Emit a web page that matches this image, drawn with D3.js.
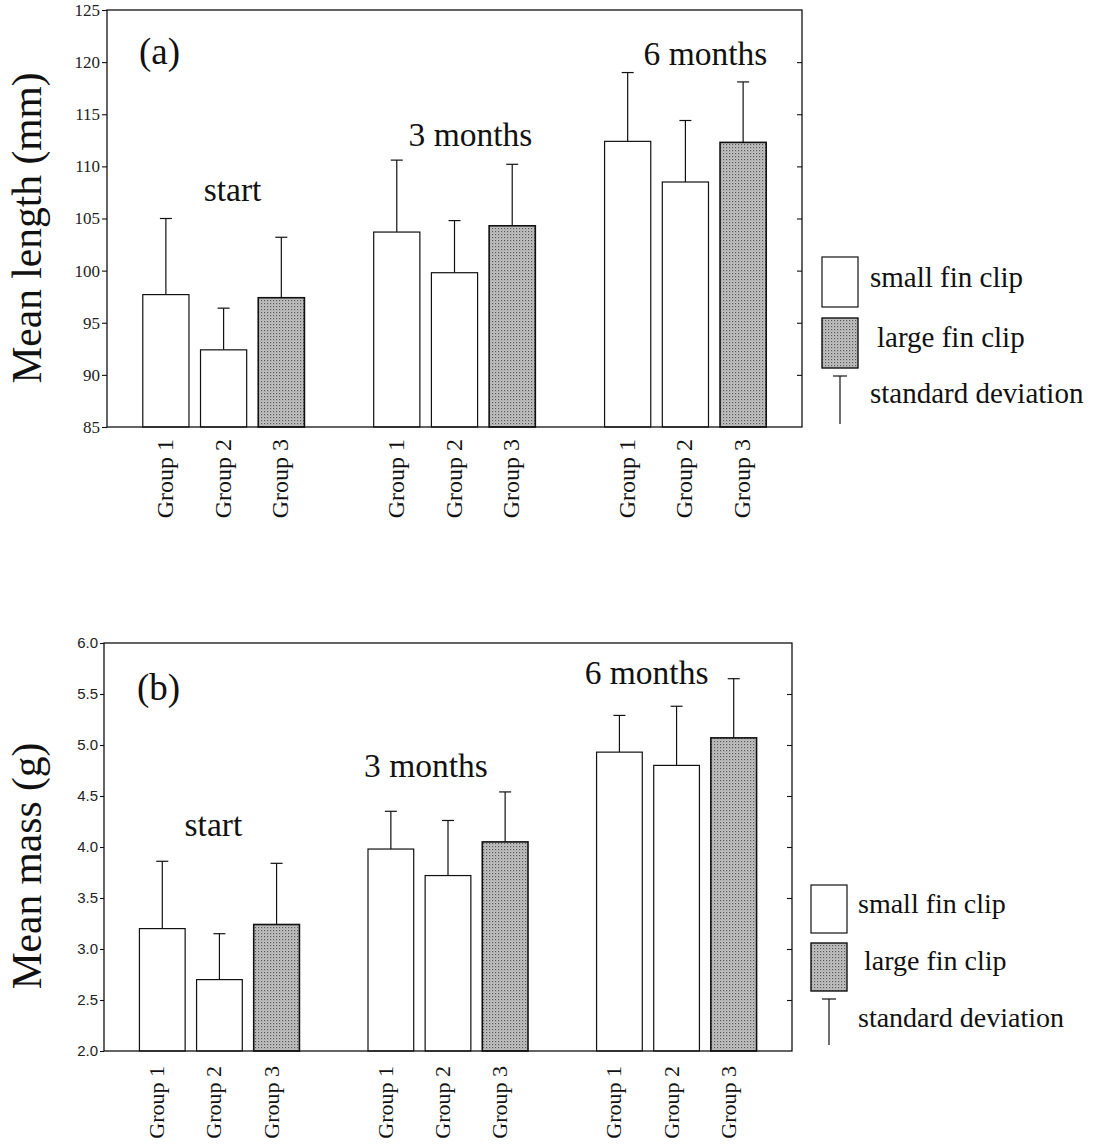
<!DOCTYPE html>
<html>
<head>
<meta charset="utf-8">
<script src="https://cdn.jsdelivr.net/npm/d3@7"></script>
<style>
  html, body { margin: 0; padding: 0; background: #fff; }
  svg { display: block; }
</style>
</head>
<body>
<svg id="chart" width="1103" height="1146"></svg>
<script>
// Sampling times and treatment groups
const periods = ["start", "3 months", "6 months"];
const groups = ["Group 1", "Group 2", "Group 3"];
// Group 3 carried the large fin clip, groups 1 and 2 the small one
const clipType = ["small", "small", "large"];

// Mean length (mm) and its standard deviation, per period then group
const lengthMean = [[97.7, 92.4, 97.4], [103.7, 99.8, 104.3], [112.4, 108.5, 112.3]];
const lengthSD   = [[7.3, 4.0, 5.8], [6.9, 5.0, 5.9], [6.6, 5.9, 5.8]];
const lengthTicks = [85, 90, 95, 100, 105, 110, 115, 120, 125];

// Mean mass (g) and its standard deviation
const massMean = [[3.20, 2.70, 3.24], [3.98, 3.72, 4.05], [4.93, 4.80, 5.07]];
const massSD   = [[0.66, 0.45, 0.60], [0.37, 0.54, 0.49], [0.36, 0.58, 0.58]];
const massTicks = [2.0, 2.5, 3.0, 3.5, 4.0, 4.5, 5.0, 5.5, 6.0];

const legendLabels = ["small fin clip", "large fin clip", "standard deviation"];

const SERIF = "'Liberation Serif', 'Times New Roman', serif";
const SANS = "'Liberation Sans', Arial, sans-serif";

const svg = d3.select("#chart");

// stippled grey fill for the large-fin-clip bars
const defs = svg.append("defs");
const pat = defs.append("pattern")
  .attr("id", "stipple").attr("width", 3).attr("height", 3)
  .attr("patternUnits", "userSpaceOnUse");
pat.append("rect").attr("width", 3).attr("height", 3).attr("fill", "#c4c4c4");
pat.append("rect").attr("width", 1.2).attr("height", 1.2).attr("fill", "#555");
pat.append("rect").attr("x", 1.5).attr("y", 1.5).attr("width", 1).attr("height", 1).attr("fill", "#929292");

function fillFor(t) { return t === "large" ? "url(#stipple)" : "#fff"; }

function drawPanel(cfg) {
  const g = svg.append("g");
  const { left, top, right, bottom } = cfg.frame;

  const y = d3.scaleLinear().domain(cfg.domain).range([bottom, top]);
  const xOuter = d3.scaleBand().domain(periods).range([left, right])
    .paddingInner(0.25).paddingOuter(0.13);
  const xInner = d3.scaleBand().domain(groups).range([0, xOuter.bandwidth()])
    .paddingInner(0.2).paddingOuter(0.1);

  const rows = [];
  periods.forEach((p, i) => groups.forEach((gr, j) => {
    rows.push({ period: p, group: gr, mean: cfg.mean[i][j], sd: cfg.sd[i][j], clip: clipType[j] });
  }));
  const cx = d => xOuter(d.period) + xInner(d.group) + xInner.bandwidth() / 2;

  // error bars (drawn first, the bar covers the lower part)
  const eb = g.append("g").attr("stroke", "#111").attr("stroke-width", 1.2);
  eb.selectAll("line.v").data(rows).join("line").attr("class", "v")
    .attr("x1", cx).attr("x2", cx)
    .attr("y1", d => y(d.mean)).attr("y2", d => y(d.mean + d.sd));
  eb.selectAll("line.h").data(rows).join("line").attr("class", "h")
    .attr("x1", d => cx(d) - 6).attr("x2", d => cx(d) + 6)
    .attr("y1", d => y(d.mean + d.sd)).attr("y2", d => y(d.mean + d.sd));

  // bars
  g.append("g").selectAll("rect").data(rows).join("rect")
    .attr("x", d => xOuter(d.period) + xInner(d.group))
    .attr("width", xInner.bandwidth())
    .attr("y", d => y(d.mean))
    .attr("height", d => y(cfg.domain[0]) - y(d.mean))
    .attr("fill", d => fillFor(d.clip))
    .attr("stroke", "#111")
    .attr("stroke-width", d => d.clip === "large" ? 1.6 : 1.2);

  // frame
  g.append("rect").attr("x", left).attr("y", top)
    .attr("width", right - left).attr("height", bottom - top)
    .attr("fill", "none").attr("stroke", "#111").attr("stroke-width", 1.3);

  // left axis with labels
  const ax = g.append("g").attr("transform", `translate(${left},0)`)
    .call(d3.axisLeft(y).tickValues(cfg.ticks).tickSize(cfg.tickLen).tickPadding(2)
      .tickFormat(cfg.tickFormat));
  ax.select(".domain").remove();
  ax.selectAll("line").attr("stroke", "#111").attr("stroke-width", 1.1);
  ax.selectAll("text").attr("font-family", cfg.tickFont).attr("font-size", cfg.tickSize)
    .attr("fill", "#222");

  // inward ticks on the right edge
  const axr = g.append("g").attr("transform", `translate(${right},0)`)
    .call(d3.axisLeft(y).tickValues(cfg.ticks.slice(1, -1)).tickSize(5).tickFormat(""));
  axr.select(".domain").remove();
  axr.selectAll("line").attr("stroke", "#111").attr("stroke-width", 1.1);

  // rotated group names below the bars
  g.append("g").selectAll("text").data(rows).join("text")
    .attr("transform", d => `translate(${cx(d) + cfg.groupDx},${bottom + cfg.groupGap}) rotate(-90)`)
    .attr("text-anchor", "end")
    .attr("font-family", SERIF).attr("font-size", cfg.groupSize).attr("fill", "#111")
    .text(d => d.group);

  // period labels above each cluster
  g.append("g").selectAll("text").data(periods).join("text")
    .attr("x", (p, i) => xOuter(p) + xOuter.bandwidth() / 2 + cfg.periodDx[i])
    .attr("y", (p, i) => cfg.periodY[i])
    .attr("text-anchor", "middle")
    .attr("font-family", SERIF).attr("font-size", 33.5).attr("fill", "#111")
    .text(p => p);

  // panel letter
  g.append("text").attr("x", cfg.letterPos[0]).attr("y", cfg.letterPos[1])
    .attr("font-family", SERIF).attr("font-size", 37).attr("fill", "#111")
    .text(cfg.letter);

  // y title
  g.append("text")
    .attr("transform", `translate(${cfg.titlePos[0]},${cfg.titlePos[1]}) rotate(-90)`)
    .attr("text-anchor", "middle")
    .attr("font-family", SERIF).attr("font-size", 41.5).attr("fill", "#111")
    .text(cfg.title);

  // legend
  const L = cfg.legend;
  const lg = g.append("g").attr("transform", `translate(${L.x},${L.y})`);
  lg.append("rect").attr("x", 0).attr("y", 0).attr("width", L.bw).attr("height", L.bh)
    .attr("fill", fillFor("small")).attr("stroke", "#111").attr("stroke-width", 1.2);
  lg.append("rect").attr("x", 0).attr("y", L.gap).attr("width", L.bw).attr("height", L.bh)
    .attr("fill", fillFor("large")).attr("stroke", "#111").attr("stroke-width", 1.4);
  const sdY = L.gap + L.bh + 8;
  lg.append("line").attr("x1", L.bw / 2).attr("x2", L.bw / 2)
    .attr("y1", sdY).attr("y2", sdY + L.bh - 2).attr("stroke", "#111").attr("stroke-width", 1.2);
  lg.append("line").attr("x1", L.bw / 2 - 7).attr("x2", L.bw / 2 + 7)
    .attr("y1", sdY).attr("y2", sdY).attr("stroke", "#111").attr("stroke-width", 1.2);
  lg.selectAll("text").data(legendLabels).join("text")
    .attr("x", (t, i) => L.textX[i])
    .attr("y", (t, i) => L.textY[i])
    .attr("font-family", SERIF).attr("font-size", L.size).attr("fill", "#111")
    .text(t => t);
}

drawPanel({
  frame: { left: 107, top: 10, right: 802, bottom: 427 },
  domain: [85, 125], ticks: lengthTicks, mean: lengthMean, sd: lengthSD,
  tickFormat: d3.format("d"), tickFont: SERIF, tickSize: 17, tickLen: 5,
  groupDx: 7, groupGap: 12, groupSize: 24,
  periodDx: [9, 16, 20], periodY: [201, 146, 65],
  letter: "(a)", letterPos: [139, 64],
  title: "Mean length (mm)", titlePos: [41, 228],
  legend: { x: 822, y: 257, bw: 36, bh: 50, gap: 61, size: 29,
            textX: [48, 55, 48], textY: [30, 90, 146] }
});

drawPanel({
  frame: { left: 104, top: 643, right: 792, bottom: 1051 },
  domain: [2, 6], ticks: massTicks, mean: massMean, sd: massSD,
  tickFormat: d3.format(".1f"), tickFont: SANS, tickSize: 15, tickLen: 4,
  groupDx: 2, groupGap: 15, groupSize: 22,
  periodDx: [-6, -22, -30], periodY: [836, 777, 684],
  letter: "(b)", letterPos: [137, 700],
  title: "Mean mass (g)", titlePos: [41, 866],
  legend: { x: 811, y: 885, bw: 36, bh: 48, gap: 58, size: 28,
            textX: [47, 53, 47], textY: [28, 85, 142] }
});
</script>
</body>
</html>
